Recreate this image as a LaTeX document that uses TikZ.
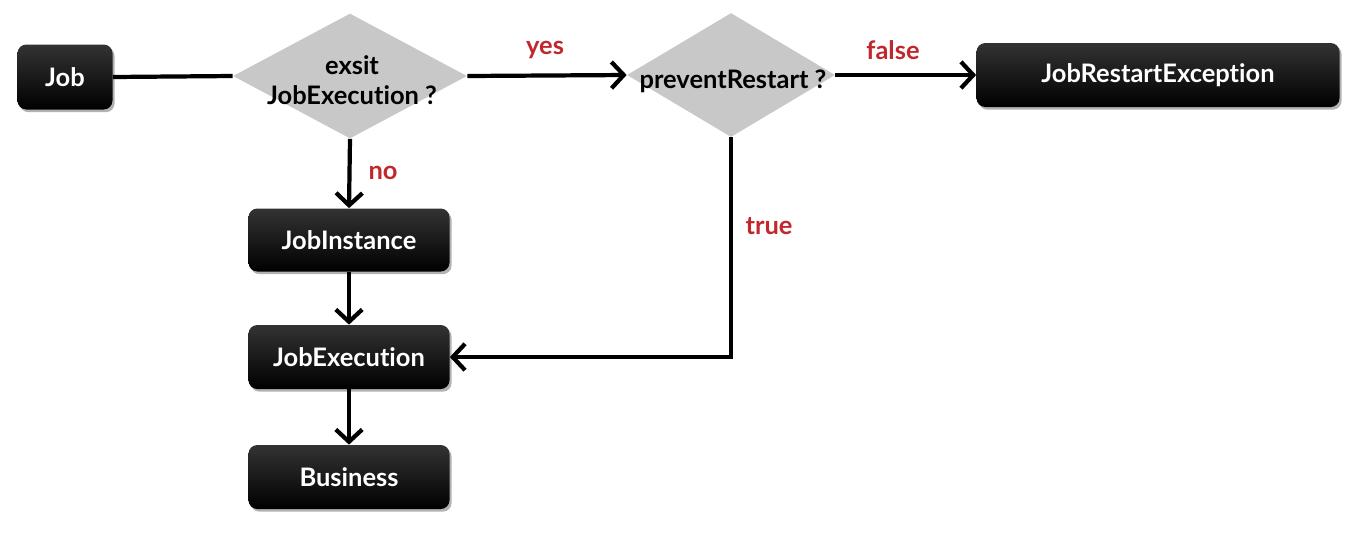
\documentclass[tikz,border=0pt]{standalone}
\usepackage{fontspec}
\setmainfont{Lato}[Ligatures={NoCommon}]
\usetikzlibrary{shapes.geometric,arrows.meta,shadows}
\definecolor{lblred}{HTML}{C0282D}
\definecolor{dgray}{HTML}{C8C8C8}
\begin{document}
\begin{tikzpicture}[x=0.02cm,y=-0.02cm,
  blackbox/.style={rectangle, rounded corners=5pt, top color=black!80, bottom color=black, draw=none,
    text=white, font=\bfseries\fontsize{14.5}{17}\selectfont, inner sep=0pt,
    drop shadow={shadow xshift=1.2pt, shadow yshift=-1.5pt, opacity=0.3, fill=black}},
  decision/.style={diamond, fill=dgray, draw=none, inner sep=0pt},
  dtext/.style={font=\bfseries\fontsize{14.5}{17}\selectfont, align=center, text=black},
  conn/.style={line width=2.4pt, -{Straight Barb[length=7pt,width=15pt,line width=2.4pt]}},
  plain/.style={line width=2.4pt},
  lbl/.style={font=\bfseries\fontsize{14.5}{17}\selectfont, text=lblred}
]
\useasboundingbox (0,0) rectangle (1372,532);
\node[blackbox, minimum width=95*0.02cm, minimum height=65*0.02cm] (job) at (65,77) {Job};
\node[decision, minimum width=234*0.02cm, minimum height=125*0.02cm] (d1) at (350,76) {};
\node[dtext] (d1t) at (352,80) {exsit\\JobExecution ?};
\node[decision, minimum width=208*0.02cm, minimum height=124*0.02cm] (d2) at (731,75) {};
\node[dtext] (d2t) at (733,81) {preventRestart ?};
\node[blackbox, minimum width=363*0.02cm, minimum height=64*0.02cm] (jre) at (1158,75) {JobRestartException};
\node[blackbox, minimum width=201*0.02cm, minimum height=63*0.02cm] (ji) at (349,240) {JobInstance};
\node[blackbox, minimum width=201*0.02cm, minimum height=64*0.02cm] (je) at (349,357) {JobExecution};
\node[blackbox, minimum width=201*0.02cm, minimum height=64*0.02cm] (bu) at (349,477) {Business};

\draw[plain] (job.east) -- (d1.west);
\draw[conn] (d1.east) -- (d2.west);
\draw[conn] (d2.east) -- (jre.west);
\draw[conn] (d1.south) -- (ji.north);
\draw[conn] (ji.south) -- (je.north);
\draw[conn] (je.south) -- (bu.north);
\draw[conn] (d2.south) -- (d2.south |- je.east) -- (je.east);

\node[lbl] (lyes) at (545,50) {yes};
\node[lbl] (lfalse) at (893,50) {false};
\node[lbl] (lno) at (383,173) {no};
\node[lbl] (ltrue) at (769,226) {true};
\end{tikzpicture}
\end{document}
